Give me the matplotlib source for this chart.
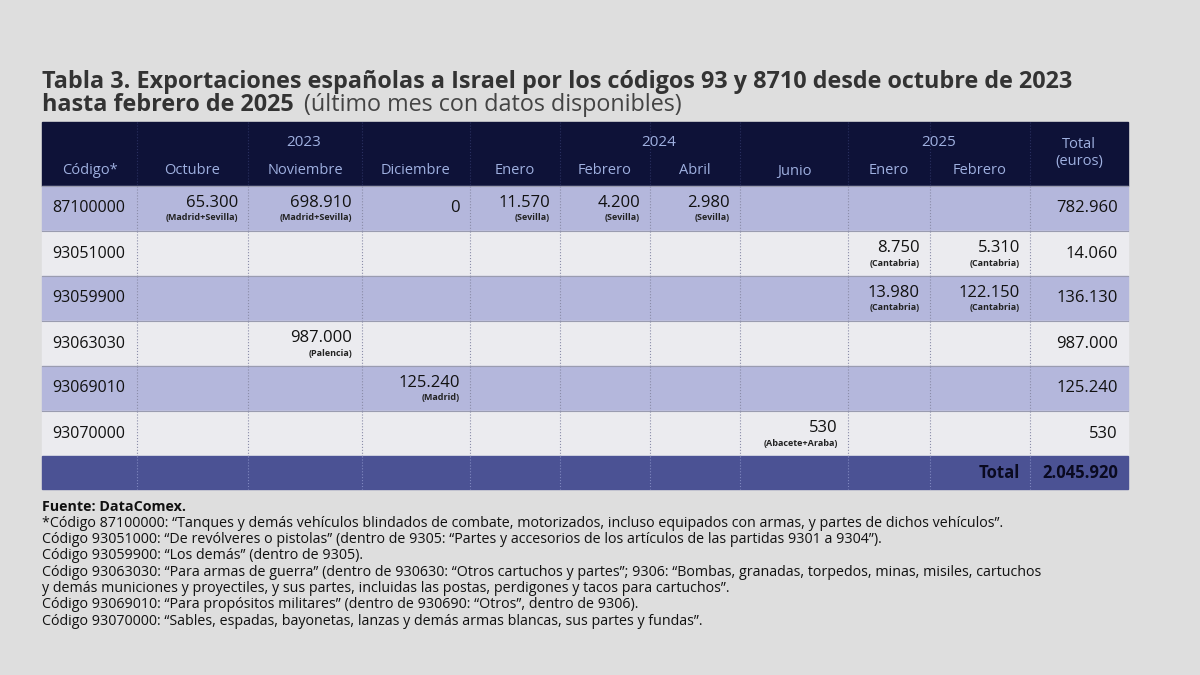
import matplotlib
matplotlib.use("Agg")
import matplotlib.pyplot as plt
from matplotlib.patches import Rectangle

plt.rcParams["font.family"] = "Open Sans"

years = ["2023", "2024", "2025"]
year_spans = [(1, 3), (4, 7), (8, 9)]
months = ["Octubre", "Noviembre", "Diciembre", "Enero", "Febrero", "Abril", "Junio", "Enero", "Febrero"]
codes = ["87100000", "93051000", "93059900", "93063030", "93069010", "93070000"]
values = [
    ["65.300", "698.910", "0", "11.570", "4.200", "2.980", None, None, None],
    [None, None, None, None, None, None, None, "8.750", "5.310"],
    [None, None, None, None, None, None, None, "13.980", "122.150"],
    [None, "987.000", None, None, None, None, None, None, None],
    [None, None, "125.240", None, None, None, None, None, None],
    [None, None, None, None, None, None, "530", None, None],
]
origins = [
    ["(Madrid+Sevilla)", "(Madrid+Sevilla)", None, "(Sevilla)", "(Sevilla)", "(Sevilla)", None, None, None],
    [None, None, None, None, None, None, None, "(Cantabria)", "(Cantabria)"],
    [None, None, None, None, None, None, None, "(Cantabria)", "(Cantabria)"],
    [None, "(Palencia)", None, None, None, None, None, None, None],
    [None, None, "(Madrid)", None, None, None, None, None, None],
    [None, None, None, None, None, None, "(Abacete+Araba)", None, None],
]
totals = ["782.960", "14.060", "136.130", "987.000", "125.240", "530"]
grand_total = "2.045.920"
notes = [
    ("Fuente: DataComex.", True),
    ("*Código 87100000: \u201cTanques y demás vehículos blindados de combate, motorizados, incluso equipados con armas, y partes de dichos vehículos\u201d.", False),
    ("Código 93051000: \u201cDe revólveres o pistolas\u201d (dentro de 9305: \u201cPartes y accesorios de los artículos de las partidas 9301 a 9304\u201d).", False),
    ("Código 93059900: \u201cLos demás\u201d (dentro de 9305).", False),
    ("Código 93063030: \u201cPara armas de guerra\u201d (dentro de 930630: \u201cOtros cartuchos y partes\u201d; 9306: \u201cBombas, granadas, torpedos, minas, misiles, cartuchos", False),
    ("y demás municiones y proyectiles, y sus partes, incluidas las postas, perdigones y tacos para cartuchos\u201d.", False),
    ("Código 93069010: \u201cPara propósitos militares\u201d (dentro de 930690: \u201cOtros\u201d, dentro de 9306).", False),
    ("Código 93070000: \u201cSables, espadas, bayonetas, lanzas y demás armas blancas, sus partes y fundas\u201d.", False),
]

W, H = 1200, 675
fig = plt.figure(figsize=(12, 6.75), dpi=100)
fig.patch.set_facecolor("#dedede")
ax = fig.add_axes([0, 0, 1, 1])
ax.set_xlim(0, W)
ax.set_ylim(H, 0)
ax.axis("off")

xs = [42, 137, 248, 362, 470, 560, 650, 740, 848, 930, 1030, 1128]
hdr_top, hdr_bot = 122, 186
row_h = 45
total_h = 33
navy = "#0e1238"
lav = "#b4b7dc"
light = "#ebebef"
tot_c = "#4b5294"
hdr_txt = "#9fb0e0"

ax.text(42, 88, "Tabla 3. Exportaciones españolas a Israel por los códigos 93 y 8710 desde octubre de 2023",
        fontsize=16.8, fontweight="bold", color="#333333", va="baseline")
ax.text(42, 111, "hasta febrero de 2025", fontsize=16.8, fontweight="bold", color="#333333", va="baseline")
ax.text(304, 111, "(último mes con datos disponibles)", fontsize=16.8, color="#444444", va="baseline")

ax.add_patch(Rectangle((xs[0], hdr_top), xs[-1] - xs[0], hdr_bot - hdr_top, color=navy))
for (a, b), y in zip(year_spans, years):
    ax.text((xs[a] + xs[b + 1]) / 2, 142, y, ha="center", va="center", color=hdr_txt, fontsize=11)
ax.text((xs[0] + xs[1]) / 2, 171, "Código*", ha="center", va="center", color=hdr_txt, fontsize=10.5)
for i, m in enumerate(months):
    ax.text((xs[i + 1] + xs[i + 2]) / 2, 171, m, ha="center", va="center", color=hdr_txt, fontsize=10.5)
ax.text((xs[-2] + xs[-1]) / 2, 145, "Total", ha="center", va="center", color=hdr_txt, fontsize=10.5)
ax.text((xs[-2] + xs[-1]) / 2, 162, "(euros)", ha="center", va="center", color=hdr_txt, fontsize=10.5)
for x in xs[1:-1]:
    ax.plot([x, x], [hdr_top, hdr_bot], color="#2a3060", lw=0.8, ls=":")

for r, code in enumerate(codes):
    y0 = hdr_bot + r * row_h
    ax.add_patch(Rectangle((xs[0], y0), xs[-1] - xs[0], row_h, color=lav if r % 2 == 0 else light))
    ax.text(xs[0] + 10, y0 + row_h / 2, code, va="center", fontsize=11.5, color="#111111")
    for c in range(len(months)):
        v = values[r][c]
        if v is None:
            continue
        xr = xs[c + 2] - 10
        if origins[r][c]:
            ax.text(xr, y0 + 17, v, ha="right", va="center", fontsize=12, color="#111111")
            ax.text(xr, y0 + 32, origins[r][c], ha="right", va="center", fontsize=6.5,
                    fontweight="bold", color="#222222")
        else:
            ax.text(xr, y0 + row_h / 2, v, ha="right", va="center", fontsize=12, color="#111111")
    ax.text(xs[-1] - 10, y0 + row_h / 2, totals[r], ha="right", va="center", fontsize=12, color="#111111")
    ax.plot([xs[0], xs[-1]], [y0, y0], color="#9a9cb0", lw=0.8)
    for x in xs[1:-1]:
        ax.plot([x, x], [y0, y0 + row_h], color="#8a8ca8", lw=0.8, ls=":")

ty = hdr_bot + len(codes) * row_h
ax.add_patch(Rectangle((xs[0], ty), xs[-1] - xs[0], total_h, color=tot_c))
for x in xs[1:-1]:
    ax.plot([x, x], [ty, ty + total_h], color="#8088c0", lw=0.8, ls=":")
ax.text(xs[-2] - 10, ty + total_h / 2, "Total", ha="right", va="center", fontsize=12, fontweight="bold", color="#0a0a20")
ax.text(xs[-1] - 10, ty + total_h / 2, grand_total, ha="right", va="center", fontsize=12, fontweight="bold", color="#0a0a20")

ny = 507
for t, b in notes:
    ax.text(42, ny, t, fontsize=10.3, fontweight="bold" if b else "normal", color="#111111", va="center")
    ny += 16.3

fig.savefig("out.png", dpi=100, facecolor=fig.get_facecolor())
